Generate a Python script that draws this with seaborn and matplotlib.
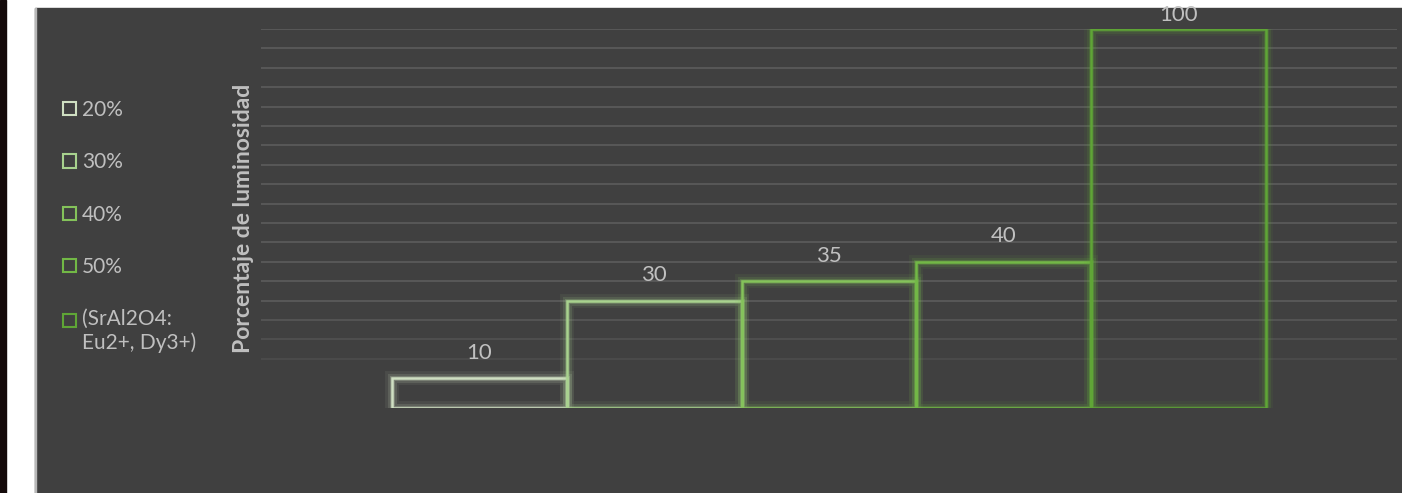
import matplotlib
matplotlib.use("Agg")
import matplotlib.pyplot as plt
import matplotlib.patches as mpatches
import matplotlib.patheffects as pe
import seaborn as sns
import pandas as pd

# Luminosity of each concentration of the phosphor
series = ["20%", "30%", "40%", "50%", "(SrAl2O4:\nEu2+, Dy3+)"]
values = [10, 30, 35, 40, 100]
colors = ["#cfdfc2", "#a8d28e", "#84c25a", "#72b846", "#5fa536"]
grid_levels = list(range(15, 101, 5))
axis_floor = 2.3

W, H = 1402, 493
fig = plt.figure(figsize=(W / 100, H / 100), dpi=100, facecolor="white")

# page background: dark strip, white margin, grey panel
fig.patches.append(mpatches.Rectangle((0, 0), 6 / W, 1, transform=fig.transFigure,
                                      color="#140a0a", zorder=-10))
fig.patches.append(mpatches.Rectangle((35 / W, 0), 1 - 35 / W, 1 - 8 / H,
                                      transform=fig.transFigure, color="#404040", zorder=-10))
fig.patches.append(mpatches.Rectangle((35 / W, 0), 1.2 / W, 1 - 8 / H,
                                      transform=fig.transFigure, color="#b8b8b8", zorder=-9))

ax = fig.add_axes([261 / W, (H - 408) / H, (1397 - 261) / W, (408 - 29) / H])
ax.set_facecolor("none")
ax.set_zorder(2)

df = pd.DataFrame({"serie": series, "valor": values})
sns.barplot(data=df, x="serie", y="valor", hue="serie", palette=colors,
            width=1.0, fill=False, linewidth=1.8, ax=ax, legend=True, zorder=3)

# bars rest on the floor of the value axis, with a soft glow
for bar, v, c in zip(ax.patches, values, colors):
    bar.set_y(axis_floor)
    bar.set_height(v - axis_floor)
    bar.set_path_effects([
        pe.Stroke(linewidth=10, foreground=c, alpha=0.08),
        pe.Stroke(linewidth=6.5, foreground=c, alpha=0.14),
        pe.Stroke(linewidth=3.5, foreground=c, alpha=0.28),
        pe.Normal(),
    ])

ax.set_ylim(axis_floor, 100)
ax.set_xlim(-1.246, 4 + 1.246)
ax.set_yticks(grid_levels)
ax.grid(axis="y", color="#575757", linewidth=1.5, zorder=0)
ax.set_axisbelow(True)
# lower grid lines fade out
for lvl, gl in zip(grid_levels, ax.yaxis.get_gridlines()):
    gl.set_alpha(min(1.0, 0.45 + (lvl - 15) / 25))
ax.tick_params(left=False, bottom=False, labelleft=False, labelbottom=False)
for s in ax.spines.values():
    s.set_visible(False)
ax.set_xlabel("")
ax.set_ylabel("Porcentaje de luminosidad", fontsize=16.5, fontweight="bold",
              color="#bfbfbf", family="Lato", labelpad=5)

# value labels
for i, cont in enumerate(ax.containers):
    ax.bar_label(cont, labels=[str(values[i])], padding=3 if values[i] == 100 else 11,
                 fontsize=16, color="#c0c0c0", family="Lato")

# legend on the left of the panel
leg = ax.get_legend()
handles = leg.legend_handles
labels = [t.get_text() for t in leg.get_texts()]
leg.remove()
newleg = fig.legend(handles, labels, loc="upper left",
                    bbox_to_anchor=(63 / W, 1 - 100 / H), frameon=False,
                    prop={"family": "Lato", "size": 15},
                    handlelength=0.62, handleheight=0.62, handletextpad=0.3,
                    labelspacing=1.55, borderpad=0, borderaxespad=0)
for t in newleg.get_texts():
    t.set_color("#bfbfbf")
for h, c in zip(newleg.legend_handles, colors):
    h.set_edgecolor(c)
    h.set_facecolor("none")
    h.set_linewidth(1.5)
newleg.legend_handles[-1].set_y(newleg.legend_handles[-1].get_y() + 8)

fig.savefig("out.png", dpi=100, facecolor="white")
